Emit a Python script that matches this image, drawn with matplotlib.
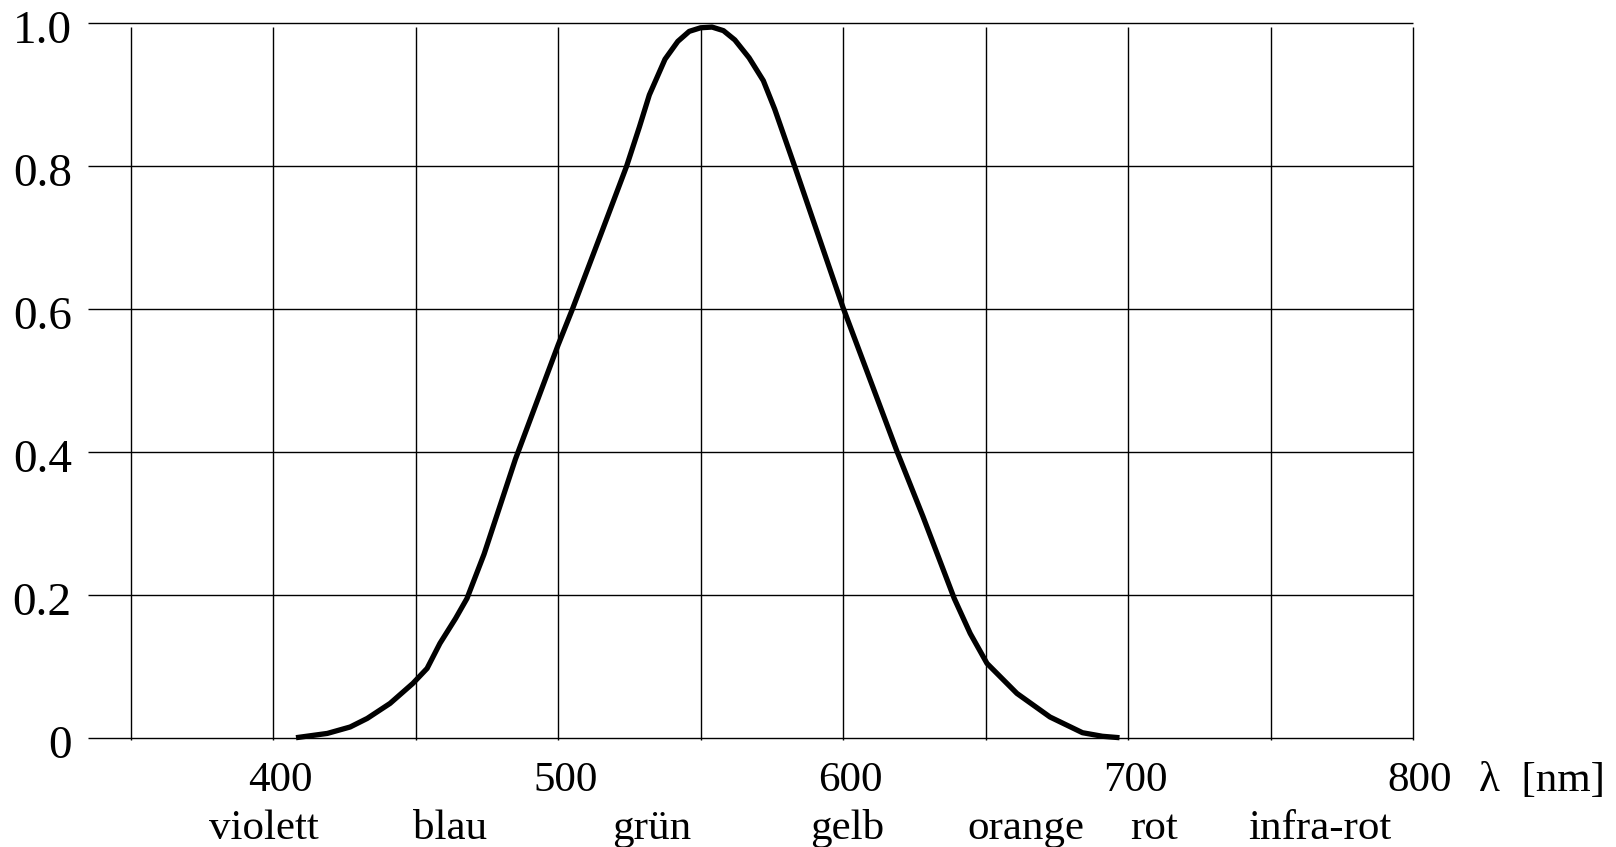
import numpy as np
import matplotlib
matplotlib.use("Agg")
import matplotlib.pyplot as plt

# Relative spectral sensitivity of the eye, V(lambda)
wavelength = [408, 419, 427, 433, 441, 449, 454, 458.5, 464, 468, 474, 485,
              500, 505, 515, 524, 528.5, 532, 537.5, 542, 546, 550, 554,
              558, 562, 567, 572, 576, 583, 600, 619, 628, 639, 644.6,
              650.5, 661, 672.6, 684, 691, 697]
sensitivity = [0.0, 0.006, 0.015, 0.027, 0.048, 0.076, 0.097, 0.132, 0.167,
               0.195, 0.257, 0.39, 0.55, 0.60, 0.705, 0.80, 0.855, 0.90,
               0.950, 0.975, 0.989, 0.994, 0.995, 0.990, 0.977, 0.952,
               0.920, 0.880, 0.80, 0.602, 0.40, 0.31, 0.195, 0.146, 0.104,
               0.062, 0.029, 0.007, 0.002, 0.0]

y_ticks = [0, 0.2, 0.4, 0.6, 0.8, 1.0]
y_tick_labels = ["0", "0.2", "0.4", "0.6", "0.8", "1.0"]
x_grid = [350, 400, 450, 500, 550, 600, 650, 700, 750, 800]
x_ticks = [400, 500, 600, 700, 800]
colour_names = ["violett", "blau", "grün", "gelb", "orange", "rot", "infra-rot"]
colour_name_pos = [396.7, 462.0, 532.9, 601.5, 664.2, 709.1, 767.4]

plt.rcParams['font.family'] = ['Liberation Serif', 'DejaVu Serif']

W, H = 1616, 847
fig = plt.figure(figsize=(W / 100, H / 100), dpi=100)
ax = fig.add_axes([88 / W, 1 - 737.7 / H, (1413 - 88) / W, (737.7 - 23.5) / H])
ax.set_xlim(335, 800)
ax.set_ylim(0, 1)
ax.axis('off')

grid_kw = dict(color='black', linewidth=1.0, clip_on=False)
ax.hlines(y_ticks, 335, 800, **grid_kw)
ax.vlines(x_grid, -0.003, 0.995, **grid_kw)

ax.plot(wavelength, sensitivity, color='black', linewidth=3.8,
        solid_joinstyle='round', solid_capstyle='butt', clip_on=False)

for v, lab in zip(y_ticks, y_tick_labels):
    ax.text(329.3, v - 0.028, lab, ha='right', va='baseline', fontsize=34,
            clip_on=False)

for x in x_ticks:
    ax.text(x + 2.5, -0.0746, str(x), ha='center', va='baseline',
            fontsize=31, clip_on=False)
ax.text(823.2, -0.0746, "λ  [nm]", ha='left', va='baseline', fontsize=31,
        clip_on=False)

for x, name in zip(colour_name_pos, colour_names):
    ax.text(x, -0.1418, name, ha='center', va='baseline', fontsize=31,
            clip_on=False)

fig.savefig("out.png", dpi=100, facecolor='white')
